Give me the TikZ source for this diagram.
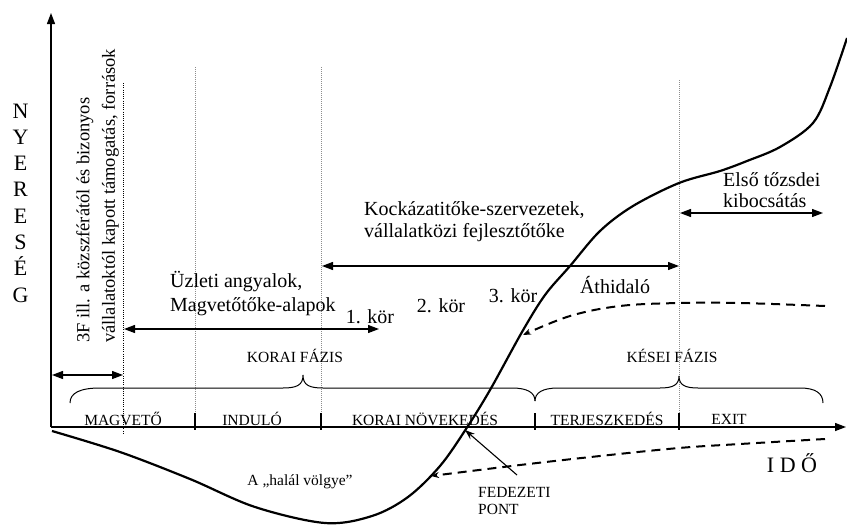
\documentclass[tikz,border=0pt]{standalone}
\usepackage{fontspec}
\setmainfont{Liberation Serif}
\usetikzlibrary{arrows.meta}
\begin{document}
\begin{tikzpicture}[x=1pt,y=-1pt,
  every node/.style={inner sep=0pt},
  big/.style={font=\fontsize{20}{23}\selectfont, align=left},
  caps/.style={font=\fontsize{15.5}{18}\selectfont},
  axislbl/.style={font=\fontsize{22}{26}\selectfont},
  axisline/.style={line width=1.3pt},
  axisarrow/.style={line width=1.3pt, -{Triangle[length=11pt,width=8pt]}},
  spanarrow/.style={line width=1.3pt, {Triangle[length=11pt,width=8pt]}-{Triangle[length=11pt,width=8pt]}},
  guide/.style={black!45, line width=0.9pt, dash pattern=on 1pt off 1pt},
  guidedark/.style={black, line width=0.9pt, dash pattern=on 1pt off 1.2pt},
  maincurve/.style={line width=2.2pt},
  dcurve/.style={line width=2pt, dash pattern=on 9pt off 6pt, -{Stealth[length=8pt,width=6pt]}},
  pointer/.style={line width=1.1pt, -{Stealth[length=10pt,width=7pt]}},
  brace/.style={line width=1pt},
]
\useasboundingbox (0,0) rectangle (847,525);

% axes
\coordinate (O) at (51,427);
\coordinate (Ytop) at (51,13);
\coordinate (Xend) at (846,427);
\draw[axisarrow] (O) -- (Ytop);
\draw[axisarrow] (O) -- (Xend);

% guide lines
\coordinate (g1t) at (123,83);  \coordinate (g1b) at (123,433);
\coordinate (g2t) at (195,67);  \coordinate (g2b) at (195,427);
\coordinate (g3t) at (321,67);  \coordinate (g3b) at (321,427);
\coordinate (g4t) at (679,80);  \coordinate (g4b) at (679,427);
\draw[guidedark] (g1t) -- (g1b);
\draw[guide] (g2t) -- (g2b);
\draw[guide] (g3t) -- (g3b);
\draw[guide] (g4t) -- (g4b);

% ticks
\foreach \t in {195,321,535,679} \draw[axisline] (\t,413) -- (\t,430);

% phase labels
\node[caps] (magveto) at (123,419) {MAGVETŐ};
\node[caps] (indulo) at (252,419) {INDULÓ};
\node[caps] (koraino) at (425,419) {KORAI NÖVEKEDÉS};
\node[caps] (terj) at (607,419) {TERJESZKEDÉS};
\node[caps] (exit) at (729,419) {EXIT};

% braces
\draw[brace] (70,403) .. controls (70,393) and (80,388) .. (100,388) -- (283,388)
  .. controls (297,388) and (303,385) .. (303,375)
  .. controls (303,385) and (309,388) .. (323,388) -- (512,388)
  .. controls (528,388) and (535,393) .. (535,401);
\draw[brace] (535,401) .. controls (535,393) and (542,388) .. (558,388) -- (660,388)
  .. controls (673,388) and (679,385) .. (679,376)
  .. controls (679,385) and (685,388) .. (698,388) -- (800,388)
  .. controls (815,388) and (823,393) .. (823,403);
\node[caps] (korai) at (295,356) {KORAI FÁZIS};
\node[caps] (kesei) at (672,356) {KÉSEI FÁZIS};

% span arrows
\coordinate (a1l) at (52,375);  \coordinate (a1r) at (123,375);
\coordinate (a2l) at (124,329); \coordinate (a2r) at (379,329);
\coordinate (a3l) at (322,266); \coordinate (a3r) at (679,266);
\coordinate (a4l) at (680,213); \coordinate (a4r) at (823,213);
\draw[spanarrow] (a1l) -- (a1r);
\draw[spanarrow] (a2l) -- (a2r);
\draw[spanarrow] (a3l) -- (a3r);
\draw[spanarrow] (a4l) -- (a4r);

% texts
\node[rotate=90, anchor=west, align=left, font=\fontsize{18.5}{25.5}\selectfont] (threeF) at (97.5,343)
  {3F ill. a közszférától és bizonyos\\vállalatoktól kapott támogatás, források};
\node[big, anchor=west, font=\fontsize{20}{24}\selectfont] (uzleti) at (170,294) {Üzleti angyalok,\\Magvetőtőke-alapok};
\node[big] (kor1) at (370,317) {1. kör};
\node[big] (kor2) at (441,306) {2. kör};
\node[big] (kor3) at (513,296) {3. kör};
\node[big] (athid) at (615,285) {Áthidaló};
\node[big, anchor=west, font=\fontsize{20}{22}\selectfont] (kock) at (364,222) {Kockázatitőke-szervezetek,\\vállalatközi fejlesztőtőke};
\node[big, anchor=west, font=\fontsize{20}{21}\selectfont] (elso) at (723,190) {Első tőzsdei\\kibocsátás};

% axis labels
\node[axislbl, align=center, font=\fontsize{22}{26.3}\selectfont] (nyer) at (20.5,203)
  {N\\Y\\E\\R\\E\\S\\É\\G};
\node[axislbl] (ido) at (792,463) {I D Ő};

% valley / break-even
\node[caps] (halal) at (300,482) {A „halál völgye”};
\node[caps, anchor=west, align=left, font=\fontsize{15.5}{17}\selectfont] (fedez) at (478,501) {FEDEZETI\\PONT};
\coordinate (bep) at (465,430);
\coordinate (fedtail) at (517,475);
\draw[pointer] (fedtail) -- (bep);

% main curve
\draw[maincurve] plot[smooth, tension=0.55] coordinates {
  (52,431) (120,452) (190,479) (255,507) (325,523) (372,516) (408,497)
  (440,466) (466,429) (490,390) (522,332) (545,295) (570,266) (600,231)
  (633,206) (679,183) (720,171) (747,161) (780,147) (813,123) (830,87) (847,38)};

% dashed curves
\draw[dcurve] plot[smooth, tension=0.6] coordinates {
  (825,306) (740,303) (679,303) (620,306) (570,316) (523,335)};
\draw[dcurve] plot[smooth, tension=0.6] coordinates {
  (825,439) (740,444) (679,448) (600,456) (520,465) (431,476)};
\end{tikzpicture}
\end{document}
